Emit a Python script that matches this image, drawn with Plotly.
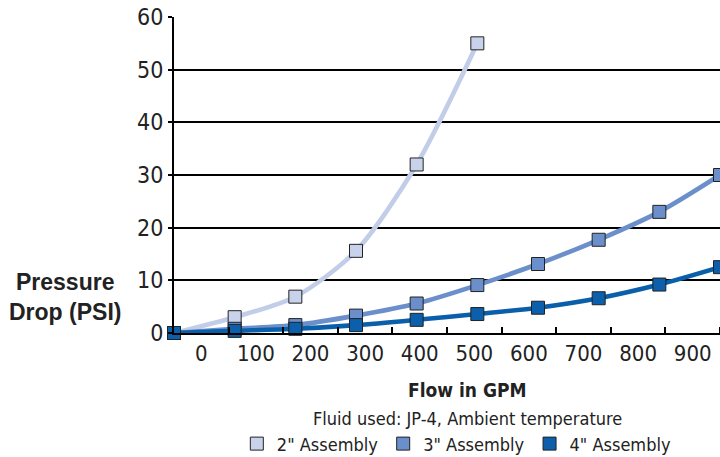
import plotly.graph_objects as go

flow = [0, 100, 200, 300, 400, 500, 600, 700, 800, 900]
tick_labels = ["0", "100", "200", "300", "400", "500", "600", "700", "800", "900"]

names = ['2" Assembly', '3" Assembly', '4" Assembly']
psi_2in = [0, 3.0, 6.9, 15.6, 32.0, 55.0]
psi_3in = [0, 0.8, 1.5, 3.3, 5.6, 9.1, 13.1, 17.7, 23.0, 30.0]
psi_4in = [0, 0.4, 0.8, 1.5, 2.5, 3.6, 4.8, 6.6, 9.2, 12.5]

line_colors = ["#c2cee8", "#6b8fca", "#0a5fab"]
fill_colors = ["#c8d3eb", "#6a8fcb", "#0b5fab"]
series = [psi_2in, psi_3in, psi_4in]

NARROW = "DejaVu Sans Condensed, Liberation Sans Narrow, Roboto Condensed, Liberation Sans, sans-serif"
BOLD = "Liberation Sans, Arial, sans-serif"

fig = go.Figure()
for name, ys, lc, fc in zip(names, series, line_colors, fill_colors):
    fig.add_trace(go.Scatter(
        x=flow[:len(ys)], y=ys, mode="lines+markers", name=name,
        line=dict(color=lc, width=4.6, shape="spline", smoothing=0.8),
        marker=dict(symbol="square", size=13, color=fc,
                    line=dict(color="#222222", width=1)),
        cliponaxis=False, showlegend=False, hoverinfo="skip"))
for name, fc in zip(names, fill_colors):
    fig.add_trace(go.Scatter(
        x=[None], y=[None], mode="markers", name=name,
        marker=dict(symbol="square", size=13, color=fc,
                    line=dict(color="#222222", width=1))))

slot = (flow[-1] - flow[0]) / len(tick_labels)
label_pos = [flow[0] + slot * (i + 0.5) for i in range(len(tick_labels))]
tick_pos = [flow[0] + slot * i for i in range(1, len(tick_labels) + 1)]

fig.update_layout(
    width=720, height=457,
    margin=dict(l=174, r=0, t=17, b=124, autoexpand=False),
    paper_bgcolor="white", plot_bgcolor="white",
    font=dict(family=NARROW, color="#222222", size=20),
    xaxis=dict(
        range=[flow[0], flow[-1]], tickmode="array", tickvals=label_pos,
        ticktext=tick_labels, ticks="", showgrid=False, zeroline=False,
        showline=True, linecolor="black", linewidth=2, automargin=False,
        tickfont=dict(family=NARROW, size=22, color="#222222"),
        minor=dict(tickmode="array", tickvals=tick_pos, ticks="inside",
                   ticklen=6, tickwidth=2, tickcolor="black", showgrid=False),
    ),
    yaxis=dict(
        range=[0, 60], tickmode="array", tickvals=[0, 10, 20, 30, 40, 50, 60],
        ticks="outside", ticklen=4, tickwidth=2, tickcolor="black",
        showgrid=True, gridcolor="black", gridwidth=2, zeroline=False,
        showline=True, linecolor="black", linewidth=2, automargin=False,
        tickfont=dict(family=NARROW, size=23, color="#222222"),
    ),
    legend=dict(orientation="h", x=0.518, xanchor="center", y=-0.351,
                yanchor="middle", font=dict(family=NARROW, size=18, color="#222222"),
                itemwidth=30, tracegroupgap=0, bgcolor="rgba(0,0,0,0)"),
    annotations=[
        dict(text="<b>Pressure<br>Drop (PSI)</b>", xref="paper", yref="paper",
             x=-0.1996, y=0.114, xanchor="center", yanchor="middle",
             showarrow=False, font=dict(family=BOLD, size=23, color="#222222")),
        dict(text="<b>Flow in GPM</b>", xref="paper", yref="paper",
             x=0.538, y=-0.180, xanchor="center", yanchor="middle",
             showarrow=False, font=dict(family=NARROW, size=19, color="#222222")),
        dict(text="Fluid used: JP-4, Ambient temperature", xref="paper", yref="paper",
             x=0.537, y=-0.269, xanchor="center", yanchor="middle",
             showarrow=False, font=dict(family=NARROW, size=18, color="#222222")),
    ],
)

fig.write_html("out.html", config={"displayModeBar": False},
               post_script="document.body.style.margin='0';document.body.style.padding='0';")
